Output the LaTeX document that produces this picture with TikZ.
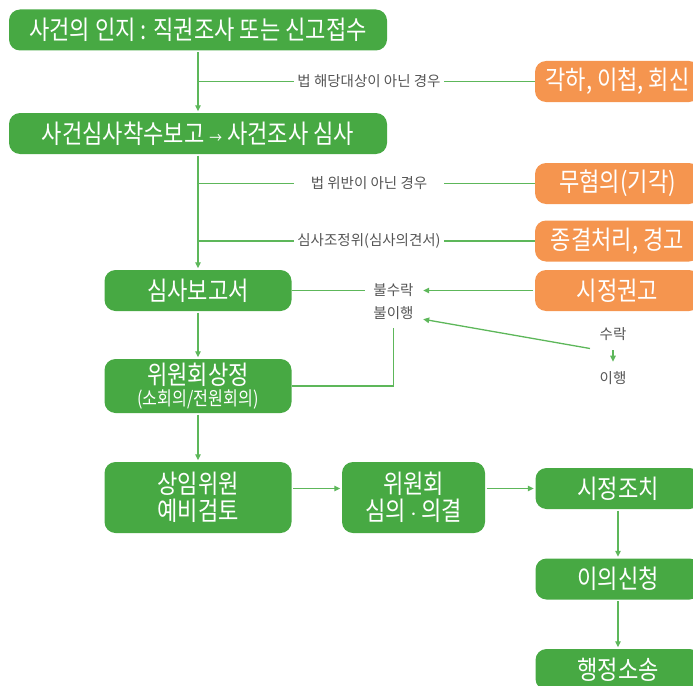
\documentclass[tikz,border=0pt]{standalone}
\usepackage{fontspec}
\setmainfont{Noto Sans CJK KR}
\newfontfamily\krbox[FakeStretch=0.85]{Noto Sans CJK KR}
\usetikzlibrary{arrows.meta}
\definecolor{boxgreen}{HTML}{47A943}
\definecolor{boxorange}{HTML}{F5954F}
\definecolor{linegreen}{HTML}{5DB75A}
\definecolor{labelgray}{HTML}{555555}

\begin{document}
\begin{tikzpicture}[x=1pt,y=-1pt,
  greenbox/.style={fill=boxgreen,rounded corners=11pt,text=white,inner sep=0pt,align=center,
    font=\krbox\fontsize{26}{27}\selectfont,minimum height=41pt},
  orangebox/.style={greenbox,fill=boxorange,minimum width=165pt},
  lbl/.style={text=labelgray,font=\fontsize{14.5}{16}\selectfont,inner sep=8pt},
  branchlbl/.style={lbl,inner xsep=0pt,minimum width=150pt},
  conn/.style={draw=linegreen,line width=1.3pt},
  arr/.style={conn,-{Triangle[length=6pt,width=5.5pt]},shorten >=1.5pt,shorten <=1.5pt}]
\useasboundingbox (0,0) rectangle (693,685);
\node[greenbox,minimum width=378pt] (jinji) at (198,30) {사건의 인지 : 직권조사 또는 신고접수};
\node[greenbox,minimum width=378pt] (chaksu) at (198,133.5) {사건심사착수보고 {\fontsize{15}{16}\selectfont→} 사건조사 심사};
\node[orangebox] (gakha) at (617.5,81.5) {각하, 이첩, 회신};
\node[orangebox] (muhyeom) at (617.5,183.5) {무혐의(기각)};
\node[orangebox] (jonggyeol) at (617.5,241) {종결처리, 경고};
\node[orangebox] (gwongo) at (617.5,290.5) {시정권고};
\node[greenbox,minimum width=187pt] (bogoseo) at (198,290.5) {심사보고서};
\node[greenbox,minimum width=187pt,minimum height=54pt] (sangjeong) at (198,386) {위원회상정\\[-6pt]{\fontsize{19}{20}\selectfont (소회의/전원회의)}};
\node[greenbox,minimum width=187pt,minimum height=71pt] (yebi) at (198,497.5) {상임위원\\예비검토};
\node[greenbox,minimum width=143pt,minimum height=71pt] (simui) at (413.5,497.5) {위원회\\심의\,$\cdot$\,의결};
\node[greenbox,minimum width=165pt] (jochi) at (618,488.5) {시정조치};
\node[greenbox,minimum width=165pt] (iui) at (618,579) {이의신청};
\node[greenbox,minimum width=165pt] (sosong) at (618,669.5) {행정소송};
\node[branchlbl] (notsubj) at (369,81.5) {법 해당대상이 아닌 경우};
\node[branchlbl] (notviol) at (369,183.5) {법 위반이 아닌 경우};
\node[branchlbl] (jojeong) at (369,241) {심사조정위(심사의견서)};
\node[lbl] (bulsurak) at (393.5,290.5) {불수락};
\node[lbl] (bulihaeng) at (393.5,313) {불이행};
\node[lbl] (surak) at (613,334) {수락};
\node[lbl] (ihaeng) at (613,378) {이행};
\draw[arr] (jinji) -- (chaksu);
\draw[arr] (chaksu) -- (bogoseo);
\draw[arr] (bogoseo) -- (sangjeong);
\draw[arr] (sangjeong) -- (yebi);
\draw[arr] (yebi.east |- jochi) -- (simui.west |- jochi);
\draw[arr] (simui.east |- jochi) -- (jochi);
\draw[arr] (jochi) -- (iui);
\draw[arr] (iui) -- (sosong);
\draw[conn] (jinji.south |- gakha) -- (notsubj) (notsubj) -- (gakha);
\draw[conn] (jinji.south |- muhyeom) -- (notviol) (notviol) -- (muhyeom);
\draw[conn] (jinji.south |- jonggyeol) -- (jojeong) (jojeong) -- (jonggyeol);
\draw[conn] (bogoseo) -- (bulsurak);
\draw[arr] (gwongo) -- (bulsurak);
\draw[conn] (bulihaeng.south) |- (sangjeong.east);
\draw[arr] (surak) -- (ihaeng);
\draw[arr] (surak.south west) -- ([yshift=-6pt]bulihaeng.east);
\end{tikzpicture}
\end{document}
